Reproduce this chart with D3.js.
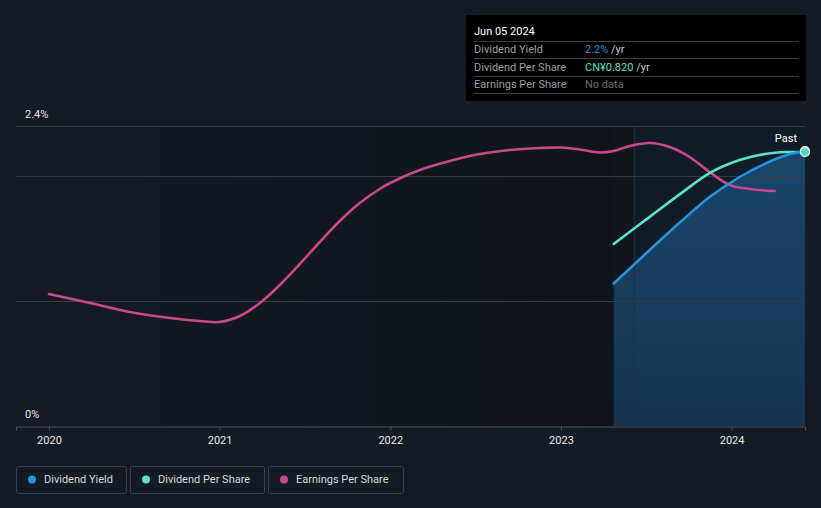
<!DOCTYPE html>
<html>
<head>
<meta charset="utf-8">
<script src="https://cdn.jsdelivr.net/npm/d3@7"></script>
<style>
  html, body { margin: 0; padding: 0; background: #151b24; }
  svg { display: block; font-family: Roboto, "Noto Sans", sans-serif; }
</style>
</head>
<body>
<svg id="chart" width="821" height="508"></svg>
<script>
// years as decimals
var yieldDates = [2023.309, 2023.52, 2023.713, 2023.871, 2024.047, 2024.205, 2024.322, 2024.43];
var yieldValues = [1.14, 1.408, 1.648, 1.832, 1.992, 2.104, 2.168, 2.2];

var dpsDates = [2023.309, 2023.52, 2023.713, 2023.871, 2024.047, 2024.205, 2024.322, 2024.43];
var dpsValues = [0.545, 0.626, 0.700, 0.757, 0.796, 0.815, 0.820, 0.820];

var epsDates = [2020.0, 2020.24, 2020.474, 2020.709, 2020.884, 2021.0, 2021.119, 2021.236, 2021.353,
  2021.47, 2021.587, 2021.704, 2021.821, 2021.938, 2022.0, 2022.173, 2022.348, 2022.524, 2022.7,
  2022.876, 2023.0, 2023.11, 2023.227, 2023.309, 2023.403, 2023.52, 2023.637, 2023.754, 2023.871,
  2023.988, 2024.105, 2024.252];
var epsValues = [0.528, 0.492, 0.456, 0.432, 0.42, 0.416, 0.44, 0.492, 0.564,
  0.648, 0.736, 0.82, 0.892, 0.948, 0.972, 1.024, 1.06, 1.088, 1.104,
  1.112, 1.114, 1.106, 1.094, 1.1, 1.12, 1.132, 1.116, 1.076, 1.016,
  0.964, 0.948, 0.94];

var yearTicks = [2020, 2021, 2022, 2023, 2024];
var gridValues = [1, 2, 2.4];
var pastStart = 2023.43;

var colors = { yield: '#2394df', dps: '#5de1c9', eps: '#c8488c' };

function drawChart() {
  var svg = d3.select('#chart');
  var plotLeft = 16, plotRight = 805, plotTop = 126, plotBottom = 426;

  var x = d3.scaleLinear().domain([2019.807, 2024.43]).range([plotLeft, plotRight]);
  var y = d3.scaleLinear().domain([0, 2.4]).range([plotBottom, plotTop]);
  var yDps = d3.scaleLinear().domain([0, 0.898]).range([plotBottom, plotTop]);
  var yEps = d3.scaleLinear().domain([0, 1.2]).range([plotBottom, plotTop]);

  var defs = svg.append('defs');
  var bgGrad = defs.append('linearGradient').attr('id', 'bgGrad')
    .attr('x1', 0).attr('x2', 1).attr('y1', 0).attr('y2', 0);
  bgGrad.append('stop').attr('offset', 0).attr('stop-color', '#151a23');
  bgGrad.append('stop').attr('offset', 1).attr('stop-color', '#0f1218');

  var areaGrad = defs.append('linearGradient').attr('id', 'areaGrad')
    .attr('x1', 0).attr('x2', 0).attr('y1', 0).attr('y2', 1);
  areaGrad.append('stop').attr('offset', 0).attr('stop-color', '#1b4b72');
  areaGrad.append('stop').attr('offset', 1).attr('stop-color', '#163654');

  // plot background
  svg.append('rect').attr('x', plotLeft).attr('y', plotTop)
    .attr('width', plotRight - plotLeft).attr('height', plotBottom - plotTop)
    .attr('fill', 'url(#bgGrad)');

  // past band
  svg.append('rect').attr('x', x(yieldDates[0])).attr('y', plotTop)
    .attr('width', x(pastStart) - x(yieldDates[0])).attr('height', plotBottom - plotTop)
    .attr('fill', '#12161d');
  svg.append('rect').attr('x', x(pastStart)).attr('y', plotTop)
    .attr('width', plotRight - x(pastStart)).attr('height', plotBottom - plotTop)
    .attr('fill', '#101c27');

  var curve = d3.curveCatmullRom.alpha(0.5);

  // area under dividend yield
  var yieldData = yieldDates.map(function(d, i) { return [d, yieldValues[i]]; });
  var area = d3.area().curve(curve)
    .x(function(d) { return x(d[0]); })
    .y0(plotBottom)
    .y1(function(d) { return y(d[1]); });
  svg.append('path').datum(yieldData).attr('d', area)
    .attr('fill', 'url(#areaGrad)').attr('opacity', 0.9);

  svg.append('line').attr('x1', x(pastStart)).attr('x2', x(pastStart))
    .attr('y1', plotTop).attr('y2', plotBottom)
    .attr('stroke', '#1f3345').attr('stroke-width', 1);

  // gridlines
  svg.selectAll('line.grid').data(gridValues).enter().append('line')
    .attr('class', 'grid')
    .attr('x1', plotLeft).attr('x2', plotRight)
    .attr('y1', function(d) { return Math.round(y(d)) + 0.5; })
    .attr('y2', function(d) { return Math.round(y(d)) + 0.5; })
    .attr('stroke', '#363b44').attr('stroke-width', 1);

  // x axis
  var xAxis = d3.axisBottom(x).tickValues(yearTicks).tickFormat(d3.format('d'))
    .tickSize(4).tickPadding(6);
  var gx = svg.append('g').attr('transform', 'translate(0,' + (plotBottom + 0.5) + ')').call(xAxis);
  gx.select('.domain').attr('stroke', '#4a4f58');
  gx.selectAll('.tick line').attr('stroke', '#4a4f58');
  gx.selectAll('.tick text').attr('fill', '#e6e6e6').attr('font-size', 11)
    .attr('font-family', 'Roboto, sans-serif');

  // y labels
  svg.append('text').attr('x', 25).attr('y', 118).text('2.4%')
    .attr('fill', '#e6e6e6').attr('font-size', 11);
  svg.append('text').attr('x', 25).attr('y', 418).text('0%')
    .attr('fill', '#e6e6e6').attr('font-size', 11);

  // lines
  function drawLine(dates, values, scale, color) {
    var data = dates.map(function(d, i) { return [d, values[i]]; });
    var line = d3.line().curve(curve)
      .x(function(d) { return x(d[0]); })
      .y(function(d) { return scale(d[1]); });
    svg.append('path').datum(data).attr('d', line)
      .attr('fill', 'none').attr('stroke', color)
      .attr('stroke-width', 2.6).attr('stroke-linecap', 'round');
  }
  drawLine(epsDates, epsValues, yEps, colors.eps);
  drawLine(dpsDates, dpsValues, yDps, colors.dps);
  drawLine(yieldDates, yieldValues, y, colors.yield);

  // end markers
  var lastI = yieldDates.length - 1;
  svg.append('circle').attr('cx', x(yieldDates[lastI])).attr('cy', y(yieldValues[lastI]))
    .attr('r', 4.5).attr('fill', colors.yield).attr('stroke', '#ffffff').attr('stroke-width', 1.2);
  svg.append('circle').attr('cx', x(dpsDates[lastI])).attr('cy', yDps(dpsValues[lastI]))
    .attr('r', 4.5).attr('fill', colors.dps).attr('stroke', '#ffffff').attr('stroke-width', 1.2)
    .attr('opacity', 0.85);

  svg.append('text').attr('x', 797).attr('y', 142).attr('text-anchor', 'end')
    .text('Past').attr('fill', '#ffffff').attr('font-size', 11);

  // tooltip
  var tip = svg.append('g');
  tip.append('rect').attr('x', 466).attr('y', 15).attr('width', 340).attr('height', 86)
    .attr('fill', '#000000');
  tip.append('text').attr('x', 474).attr('y', 35).text('Jun 05 2024')
    .attr('fill', '#ffffff').attr('font-size', 11);
  var rows = [
    { label: 'Dividend Yield', value: '2.2%', unit: ' /yr', color: colors.yield },
    { label: 'Dividend Per Share', value: 'CN¥0.820', unit: ' /yr', color: colors.dps },
    { label: 'Earnings Per Share', value: 'No data', unit: '', color: '#6b6f75' }
  ];
  [41, 58, 76, 93].forEach(function(yy) {
    tip.append('line').attr('x1', 474).attr('x2', 799)
      .attr('y1', yy + 0.5).attr('y2', yy + 0.5)
      .attr('stroke', '#3a3d42').attr('stroke-width', 1);
  });
  rows.forEach(function(r, i) {
    var yy = 53 + i * 17.5;
    tip.append('text').attr('x', 474).attr('y', yy).text(r.label)
      .attr('fill', '#9a9ea4').attr('font-size', 11);
    var t = tip.append('text').attr('x', 585).attr('y', yy).attr('font-size', 11);
    t.append('tspan').text(r.value).attr('fill', r.color);
    if (r.unit) t.append('tspan').text(r.unit).attr('fill', '#c8cace');
  });

  // legend
  var legendItems = [
    { label: 'Dividend Yield', color: colors.yield, x: 16, w: 110 },
    { label: 'Dividend Per Share', color: colors.dps, x: 130, w: 134 },
    { label: 'Earnings Per Share', color: colors.eps, x: 268, w: 135 }
  ];
  var lg = svg.selectAll('g.legend').data(legendItems).enter().append('g')
    .attr('class', 'legend')
    .attr('transform', function(d) { return 'translate(' + d.x + ',466)'; });
  lg.append('rect').attr('x', 0.5).attr('y', 0.5)
    .attr('width', function(d) { return d.w; }).attr('height', 27)
    .attr('rx', 2).attr('fill', 'none').attr('stroke', '#3b404a');
  lg.append('circle').attr('cx', 16).attr('cy', 13.5).attr('r', 4)
    .attr('fill', function(d) { return d.color; });
  lg.append('text').attr('x', 28).attr('y', 17).text(function(d) { return d.label; })
    .attr('fill', '#d4d6da').attr('font-size', 11);
}

drawChart();
</script>
</body>
</html>
